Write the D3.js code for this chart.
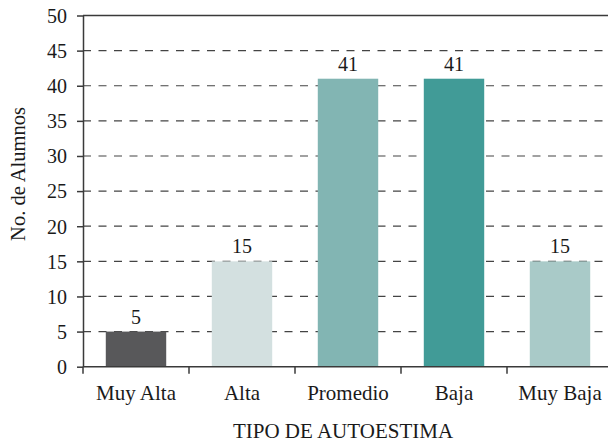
<!DOCTYPE html>
<html>
<head>
<meta charset="utf-8">
<script src="https://cdn.jsdelivr.net/npm/d3@7"></script>
<style>
  html, body { margin: 0; padding: 0; background: #fff; }
  svg text { font-family: "Liberation Serif", "DejaVu Serif", serif; fill: #1a1a1a; }
</style>
</head>
<body>
<svg id="chart" width="608" height="443"></svg>
<script>
const categories = ["Muy Alta", "Alta", "Promedio", "Baja", "Muy Baja"];
const values = [5, 15, 41, 41, 15];
const colors = ["#58585a", "#d3e0e0", "#82b5b3", "#419b97", "#a9cac8"];
const yTicks = [0, 5, 10, 15, 20, 25, 30, 35, 40, 45, 50];
const xTitle = "TIPO DE AUTOESTIMA";
const yTitle = "No. de Alumnos";

(function () {
const svg = d3.select("#chart");
const mLeft = 83, mRight = 613, mTop = 15.5, mBottom = 366.7;

const x = d3.scaleBand().domain(categories).range([mLeft, mRight]).paddingInner(0.43).paddingOuter(0.215);
const y = d3.scaleLinear().domain([0, 50]).range([mBottom, mTop]);

// gridlines
svg.append("g").selectAll("line").data(yTicks.filter(t => t > 0 && t < 50)).join("line")
  .attr("x1", mLeft).attr("x2", 608)
  .attr("y1", d => y(d)).attr("y2", d => y(d))
  .attr("stroke", "#444").attr("stroke-width", 1.2).attr("stroke-dasharray", "8,7.5");

// top line
svg.append("line").attr("x1", mLeft).attr("x2", 608).attr("y1", y(50)).attr("y2", y(50))
  .attr("stroke", "#3a3a3a").attr("stroke-width", 1.5);

// bars
svg.append("g").selectAll("rect").data(values).join("rect")
  .attr("x", (d, i) => x(categories[i]))
  .attr("width", x.bandwidth())
  .attr("y", d => y(d))
  .attr("height", d => y(0) - y(d))
  .attr("fill", (d, i) => colors[i]);

// value labels
svg.append("g").selectAll("text").data(values).join("text")
  .attr("x", (d, i) => x(categories[i]) + x.bandwidth() / 2)
  .attr("y", d => y(d) - 8)
  .attr("text-anchor", "middle")
  .attr("font-size", 20)
  .text(d => d);

// y axis
const yAxis = svg.append("g").attr("transform", `translate(${mLeft},0)`)
  .call(d3.axisLeft(y).tickValues(yTicks).tickSize(6).tickPadding(10).tickSizeOuter(0));
yAxis.select(".domain").attr("stroke", "#3a3a3a").attr("stroke-width", 1.5);
yAxis.selectAll(".tick line").attr("stroke", "#3a3a3a").attr("stroke-width", 1.5);
yAxis.selectAll(".tick text").attr("font-size", 20).attr("fill", "#1a1a1a").attr("dy", "0.34em");

// x axis
const xTickPos = d3.range(categories.length).map(i => mLeft + i * x.step());
svg.append("line").attr("x1", mLeft).attr("x2", 608).attr("y1", mBottom).attr("y2", mBottom)
  .attr("stroke", "#3a3a3a").attr("stroke-width", 1.5);
svg.append("g").selectAll("line").data(xTickPos).join("line")
  .attr("x1", d => d).attr("x2", d => d).attr("y1", mBottom).attr("y2", mBottom + 7)
  .attr("stroke", "#3a3a3a").attr("stroke-width", 1.5);
svg.append("g").selectAll("text").data(categories).join("text")
  .attr("x", d => x(d) + x.bandwidth() / 2)
  .attr("y", 400)
  .attr("text-anchor", "middle")
  .attr("font-size", 21)
  .text(d => d);

// titles
svg.append("text").attr("x", 343).attr("y", 438).attr("text-anchor", "middle")
  .attr("font-size", 21).text(xTitle);
svg.append("text").attr("transform", "translate(25,174) rotate(-90)").attr("text-anchor", "middle")
  .attr("font-size", 20.5).text(yTitle);
})();
</script>
</body>
</html>
